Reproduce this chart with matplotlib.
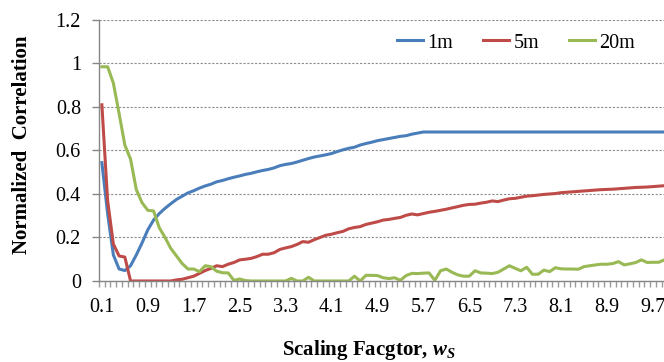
import numpy as np
import matplotlib
matplotlib.use('Agg')
import matplotlib.pyplot as plt

plt.rcParams['font.family'] = 'Liberation Serif'
plt.rcParams['mathtext.fontset'] = 'custom'
plt.rcParams['mathtext.it'] = 'Liberation Serif:italic:bold'
plt.rcParams['mathtext.rm'] = 'Liberation Serif:bold'

# Scaling factor categories 0.1 ... 10.0
ws = np.round(np.arange(1, 101) * 0.1, 1)

# Correlation curves
corr_1m = [
    0.544, 0.31, 0.12, 0.055, 0.048, 0.07, 0.12, 0.175, 0.235, 0.28,
    0.31, 0.334, 0.355, 0.375, 0.39, 0.405, 0.415, 0.427, 0.437, 0.445,
    0.456, 0.462, 0.47, 0.477, 0.483, 0.49, 0.495, 0.502, 0.508, 0.513,
    0.52, 0.53, 0.536, 0.54, 0.547, 0.555, 0.563, 0.57, 0.575, 0.58,
    0.586, 0.595, 0.603, 0.61, 0.615, 0.625, 0.632, 0.638, 0.645, 0.65,
    0.655, 0.66, 0.665, 0.668, 0.675, 0.68, 0.685, 0.685, 0.685, 0.685,
    0.685, 0.685, 0.685, 0.685, 0.685, 0.685, 0.685, 0.685, 0.685, 0.685,
    0.685, 0.685, 0.685, 0.685, 0.685, 0.685, 0.685, 0.685, 0.685, 0.685,
    0.685, 0.685, 0.685, 0.685, 0.685, 0.685, 0.685, 0.685, 0.685, 0.685,
    0.685, 0.685, 0.685, 0.685, 0.685, 0.685, 0.685, 0.685, 0.685, 0.685]

corr_5m = [
    0.81, 0.37, 0.17, 0.115, 0.11, 0.0, 0.0, 0.0, 0.0, 0.0,
    0.0, 0.0, 0.0, 0.005, 0.008, 0.015, 0.022, 0.035, 0.048, 0.058,
    0.07, 0.066, 0.077, 0.085, 0.097, 0.1, 0.104, 0.112, 0.123, 0.123,
    0.13, 0.145, 0.152, 0.158, 0.168, 0.181, 0.178, 0.19, 0.2, 0.21,
    0.215, 0.222, 0.228, 0.24, 0.246, 0.25, 0.26, 0.266, 0.272, 0.28,
    0.283, 0.288, 0.292, 0.302, 0.308, 0.304, 0.31, 0.316, 0.32, 0.325,
    0.33, 0.336, 0.342, 0.348, 0.352, 0.353, 0.358, 0.362, 0.368, 0.365,
    0.372, 0.378, 0.38, 0.385, 0.39, 0.392, 0.395, 0.398, 0.4, 0.402,
    0.406, 0.408, 0.41, 0.412, 0.414, 0.416, 0.418, 0.42, 0.421, 0.422,
    0.424, 0.426, 0.428, 0.43, 0.431, 0.432, 0.434, 0.436, 0.438, 0.44]

corr_20m = [
    0.985, 0.985, 0.91, 0.77, 0.625, 0.56, 0.42, 0.36, 0.325, 0.322,
    0.245, 0.2, 0.15, 0.115, 0.08, 0.055, 0.055, 0.043, 0.07, 0.066,
    0.045, 0.038, 0.037, 0.003, 0.009, 0.002, 0.0, 0.0, 0.0, 0.0,
    0.0, 0.0, 0.0, 0.012, 0.0, 0.0, 0.017, 0.0, 0.0, 0.0,
    0.0, 0.0, 0.0, 0.0, 0.022, 0.0, 0.026, 0.026, 0.025, 0.015,
    0.011, 0.015, 0.003, 0.025, 0.035, 0.034, 0.036, 0.037, 0.003, 0.047,
    0.055, 0.04, 0.028, 0.022, 0.022, 0.047, 0.037, 0.036, 0.034, 0.04,
    0.055, 0.07, 0.058, 0.047, 0.063, 0.031, 0.031, 0.05, 0.043, 0.061,
    0.056, 0.055, 0.055, 0.054, 0.066, 0.07, 0.074, 0.077, 0.077, 0.08,
    0.089, 0.074, 0.079, 0.085, 0.097, 0.085, 0.086, 0.086, 0.097, 0.1]

series_names = ['1m', '5m', '20m']
series_colors = ['#4A7EBB', '#BE4B48', '#98B954']
y_ticks = [0, 0.2, 0.4, 0.6, 0.8, 1, 1.2]
x_label_ticks = ws[::8]

fig = plt.figure(figsize=(6.64, 3.62), dpi=100)
# plot area runs a bit past the right edge, like the cropped original
ax = fig.add_axes([0.1491, 0.2238, 0.8645, 0.721])

for vals, name, col in zip([corr_1m, corr_5m, corr_20m], series_names, series_colors):
    ax.plot(ws, vals, color=col, lw=2.2, label=name, solid_joinstyle='round')

ax.set_xlim(0.05, 10.05)
ax.set_ylim(0, 1.2)

# y axis
ax.set_yticks(y_ticks)
ax.set_yticklabels(['%g' % v for v in y_ticks])
ax.tick_params(axis='y', length=5, width=1, color='#868686', pad=8, labelsize=14.5)
ax.grid(axis='y', linestyle=(0, (2, 1.5)), color='#8c8c8c', lw=0.8)

# x axis: labels every 8 categories, tick marks between every category
ax.set_xticks(x_label_ticks)
ax.set_xticklabels(['%.1f' % v for v in x_label_ticks])
ax.set_xticks(np.arange(0, 101) * 0.1 + 0.05, minor=True)
ax.tick_params(axis='x', which='major', length=0, pad=12, labelsize=14.5)
ax.tick_params(axis='x', which='minor', length=4.5, width=1, color='#9a9a9a')

for s in ['top', 'right']:
    ax.spines[s].set_visible(False)
for s in ['left', 'bottom']:
    ax.spines[s].set_color('#868686')
    ax.spines[s].set_linewidth(1)

# axis titles
fig.text(22 / 664, 1 - 145 / 362, 'Normalized  Correlation', rotation=90,
         ha='center', va='center', fontsize=15, fontweight='bold')
fig.text(369 / 664, 1 - 350 / 362, r'Scaling Facgtor, $w_S$',
         ha='center', va='center', fontsize=15, fontweight='bold')

fig.legend(loc='center left', bbox_to_anchor=(0.598, 1 - 43 / 362), ncol=3,
           frameon=False, fontsize=14.5, handlelength=1.3, handletextpad=0.2,
           columnspacing=1.5, borderpad=0, borderaxespad=0)

fig.savefig('out.png', dpi=100)
